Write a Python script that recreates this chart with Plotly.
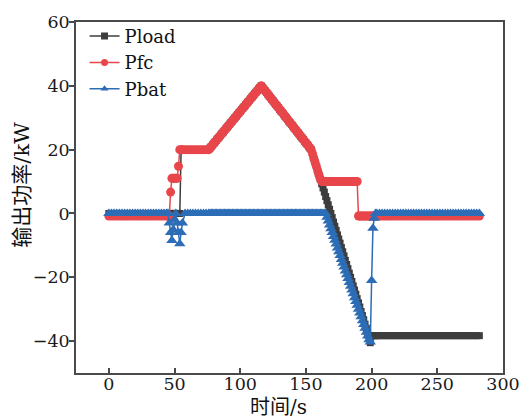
import plotly.graph_objects as go

# time axis (s)
time_s = [0, 2, 4, 6, 8, 10, 12, 14, 16, 18, 20, 22, 24, 26, 28, 30, 32, 34, 36, 38, 40, 42, 44,
          45, 46, 47, 48, 49, 50, 51, 52, 53, 54, 55, 56,
          58, 60, 62, 64, 66, 68, 70, 72, 74,
          76, 77, 78, 79, 80, 81, 82, 83, 84, 85, 86, 87, 88, 89, 90, 91, 92, 93, 94, 95,
          96, 97, 98, 99, 100, 101, 102, 103, 104, 105, 106, 107, 108, 109, 110, 111, 112, 113, 114, 115,
          116, 117, 118, 119, 120, 121, 122, 123, 124, 125, 126, 127, 128, 129, 130, 131, 132, 133, 134, 135,
          136, 137, 138, 139, 140, 141, 142, 143, 144, 145, 146, 147, 148, 149, 150, 151, 152, 153, 154, 155,
          156, 157, 158, 159, 160, 161, 162, 163, 164, 165, 166, 167, 168, 169, 170, 171, 172, 173, 174, 175,
          176, 177, 178, 179, 180, 181, 182, 183, 184, 185, 186, 187, 188, 189, 190, 191, 192, 193, 194, 195,
          196, 197, 198, 199, 200, 201, 202, 203, 204,
          206, 208, 210, 212, 214, 216, 218, 220, 222, 224, 226, 228, 230, 232, 234, 236, 238, 240, 242,
          244, 246, 248, 250, 252, 254, 256, 258, 260, 262, 264, 266, 268, 270, 272, 274, 276, 278, 280, 282]

# load power (kW)
p_load = [0, 0, 0, 0, 0, 0, 0, 0, 0, 0, 0, 0, 0, 0, 0, 0, 0, 0, 0, 0, 0, 0, 0,
          0, 0, 0, 0, 0, 0, 0, 0, 0, 0, 20, 20,
          20, 20, 20, 20, 20, 20, 20, 20, 20,
          20, 20.5, 21, 21.5, 22, 22.5, 23, 23.5, 24, 24.5, 25, 25.5, 26, 26.5, 27, 27.5, 28, 28.5, 29, 29.5,
          30, 30.5, 31, 31.5, 32, 32.5, 33, 33.5, 34, 34.5, 35, 35.5, 36, 36.5, 37, 37.5, 38, 38.5, 39, 39.5,
          40, 39.5, 38.9, 38.4, 37.9, 37.4, 36.8, 36.3, 35.8, 35.3, 34.7, 34.2, 33.7, 33.2, 32.6, 32.1, 31.6, 31.1, 30.5, 30.0,
          29.5, 28.9, 28.4, 27.9, 27.4, 26.8, 26.3, 25.8, 25.3, 24.7, 24.2, 23.7, 23.2, 22.6, 22.1, 21.6, 21.1, 20.5, 20.0, 18.7,
          17.3, 16.0, 14.7, 13.3, 12.0, 10.7, 9.3, 8.0, 6.7, 5.3, 4.0, 2.7, 1.3, 0.0, -1.3, -2.7, -4.0, -5.3, -6.7, -8.0,
          -9.3, -10.7, -12.0, -13.3, -14.7, -16.0, -17.3, -18.7, -20.0, -21.3, -22.7, -24.0, -25.3, -26.7, -28.0, -29.3, -30.7, -32.0, -33.3, -34.7,
          -36.0, -37.3, -38.7, -40.5, -38.3, -38.3, -38.3, -38.3, -38.3,
          -38.3, -38.3, -38.3, -38.3, -38.3, -38.3, -38.3, -38.3, -38.3, -38.3, -38.3, -38.3, -38.3,
          -38.3, -38.3, -38.3, -38.3, -38.3, -38.3, -38.3, -38.3, -38.3, -38.3, -38.3, -38.3, -38.3,
          -38.3, -38.3, -38.3, -38.3, -38.3, -38.3, -38.3, -38.3, -38.3, -38.3, -38.3, -38.3, -38.3]

# fuel-cell power (kW)
p_fc = [-0.8, -0.8, -0.8, -0.8, -0.8, -0.8, -0.8, -0.8, -0.8, -0.8, -0.8, -0.8, -0.8, -0.8, -0.8,
        -0.8, -0.8, -0.8, -0.8, -0.8, -0.8, -0.8, -0.8,
        -0.8, -0.8, 6.7, 11, 11, 11, 11, 11, 14.8, 20, 20, 20,
        20, 20, 20, 20, 20, 20, 20, 20, 20,
        20, 20.5, 21, 21.5, 22, 22.5, 23, 23.5, 24, 24.5, 25, 25.5, 26, 26.5, 27, 27.5, 28, 28.5, 29, 29.5,
        30, 30.5, 31, 31.5, 32, 32.5, 33, 33.5, 34, 34.5, 35, 35.5, 36, 36.5, 37, 37.5, 38, 38.5, 39, 39.5,
        40, 39.5, 38.9, 38.4, 37.9, 37.4, 36.8, 36.3, 35.8, 35.3, 34.7, 34.2, 33.7, 33.2, 32.6, 32.1, 31.6, 31.1, 30.5, 30.0,
        29.5, 28.9, 28.4, 27.9, 27.4, 26.8, 26.3, 25.8, 25.3, 24.7, 24.2, 23.7, 23.2, 22.6, 22.1, 21.6, 21.1, 20.5, 20.0, 18.7,
        17.3, 16.0, 14.7, 13.3, 12.0, 10.7, 10, 10, 10, 10, 10, 10, 10, 10, 10, 10, 10, 10, 10, 10,
        10, 10, 10, 10, 10, 10, 10, 10, 10, 10, 10, 10, 10, 10, -0.8, -0.8, -0.8, -0.8, -0.8, -0.8,
        -0.8, -0.8, -0.8, -0.8, -0.8, -0.8, -0.8, -0.8, -0.8,
        -0.8, -0.8, -0.8, -0.8, -0.8, -0.8, -0.8, -0.8, -0.8, -0.8, -0.8, -0.8, -0.8,
        -0.8, -0.8, -0.8, -0.8, -0.8, -0.8, -0.8, -0.8, -0.8, -0.8, -0.8, -0.8, -0.8,
        -0.8, -0.8, -0.8, -0.8, -0.8, -0.8, -0.8, -0.8, -0.8, -0.8, -0.8, -0.8, -0.8]

# battery power (kW)
p_bat = [0, 0, 0, 0, 0, 0, 0, 0, 0, 0,
         0, 0, 0, 0, 0, 0, 0, 0, 0, 0,
         0, 0, 0,
         0, -3, -6, -8.5, -5, -2, 0, -3, -6, -9.5, -6, -3,
         0, 0, 0, 0, 0, 0, 0, 0, 0,
         0, 0, 0, 0, 0, 0, 0, 0, 0, 0, 0, 0, 0, 0, 0, 0, 0, 0, 0, 0,
         0, 0, 0, 0, 0, 0, 0, 0, 0, 0, 0, 0, 0, 0, 0, 0, 0, 0, 0, 0,
         0, 0, 0, 0, 0, 0, 0, 0, 0, 0, 0, 0, 0, 0, 0, 0, 0, 0, 0, 0,
         0, 0, 0, 0, 0, 0, 0, 0, 0, 0, 0, 0, 0, 0, 0, 0, 0, 0, 0, 0,
         0, 0, 0, 0, 0, 0, 0, 0, 0, 0, -1.2, -2.4, -3.6, -4.8, -6.0, -7.2, -8.4, -9.6, -10.8, -12.0,
         -13.2, -14.4, -15.6, -16.8, -18.0, -19.2, -20.4, -21.6, -22.8, -24.0, -25.2, -26.4, -27.6, -28.8, -30.0, -31.2, -32.4, -33.6, -34.8, -36.0,
         -37.2, -38.4, -39.6, -40.3, -21.0, -4.6, -1.5, 0, 0,
         0, 0, 0, 0, 0, 0, 0, 0, 0, 0, 0, 0, 0,
         0, 0, 0, 0, 0, 0, 0, 0, 0, 0, 0, 0, 0,
         0, 0, 0, 0, 0, 0, 0, 0, 0, 0, 0, 0, 0]

assert len(time_s) == len(p_load) == len(p_fc) == len(p_bat), (len(time_s), len(p_load), len(p_fc), len(p_bat))

series_names = ["Pload", "Pfc", "Pbat"]
series_colors = ["#3d3d3d", "#e8464b", "#2c6db6"]
series_symbols = ["square", "circle", "triangle-up"]
series_sizes = [7, 9, 10]

x_ticks = [0, 50, 100, 150, 200, 250, 300]
y_ticks = [-40, -20, 0, 20, 40, 60]

FONT = "DejaVu Serif, Noto Sans CJK SC, serif"
AX = "#4a4a4a"

fig = go.Figure()
for name, ys, col, sym, sz in zip(series_names, [p_load, p_fc, p_bat], series_colors,
                                   series_symbols, series_sizes):
    fig.add_trace(go.Scatter(x=time_s, y=ys, name=name, mode="lines+markers", showlegend=False,
                             line=dict(color=col, width=1.5),
                             marker=dict(symbol=sym, size=sz, color=col)))
# legend entries with small markers
for name, col, sym in zip(series_names, series_colors, series_symbols):
    fig.add_trace(go.Scatter(x=[None], y=[None], name=name, mode="lines+markers",
                             line=dict(color=col, width=1.5),
                             marker=dict(symbol=sym, size=7, color=col)))

axis_common = dict(showgrid=False, zeroline=False, showline=True, linecolor=AX, linewidth=1.5,
                   mirror=True, ticklen=5, tickwidth=1.5, tickcolor=AX,
                   tickfont=dict(family=FONT, size=17.5, color="#1a1a1a"))
fig.update_xaxes(range=[-25, 300], tickvals=x_ticks, ticks="inside", ticklabelstandoff=-6,
                 **axis_common)
fig.update_yaxes(range=[-50, 60], tickvals=y_ticks, ticks="outside", ticklabelstandoff=-4,
                 **axis_common)

fig.update_layout(
    width=532, height=420,
    margin=dict(l=76, r=22, t=15, b=47),
    paper_bgcolor="white", plot_bgcolor="white",
    showlegend=True,
    legend=dict(x=0.02, y=1.012, xanchor="left", yanchor="top", bgcolor="rgba(0,0,0,0)",
                font=dict(family=FONT, size=18, color="#111"), itemwidth=30,
                tracegroupgap=0),
    annotations=[
        dict(text="时间/s", xref="paper", yref="paper", x=0.475, y=-0.097,
             xanchor="center", yanchor="middle", showarrow=False,
             font=dict(family=FONT, size=20, color="#111")),
        dict(text="输出功率/kW", xref="paper", yref="paper", x=-0.127, y=0.536,
             xanchor="center", yanchor="middle", textangle=-90, showarrow=False,
             font=dict(family=FONT, size=21, color="#111")),
    ],
)

fig.write_html("out.html")
